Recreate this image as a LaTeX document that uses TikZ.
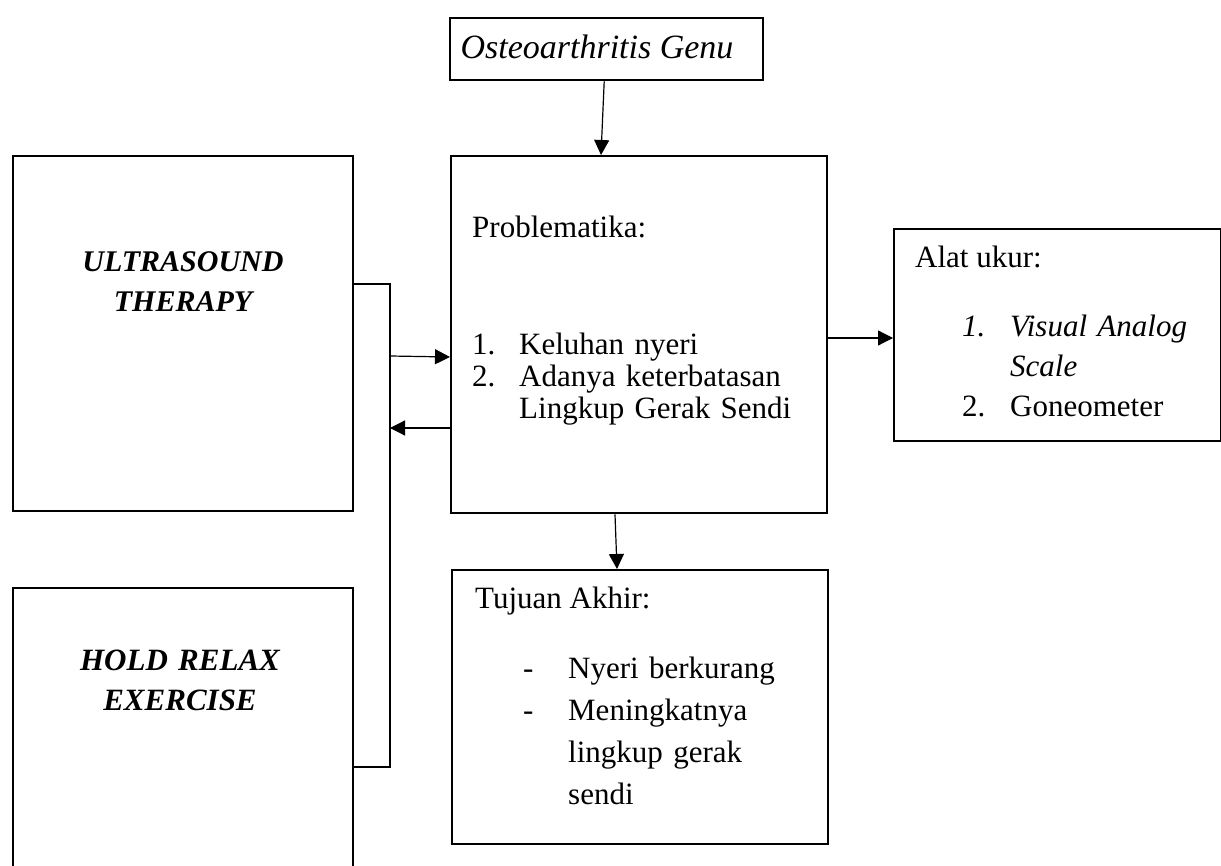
\documentclass[tikz,border=0pt]{standalone}
\usepackage{fontspec}
\setmainfont{Liberation Serif}
\usetikzlibrary{arrows.meta}

\begin{document}
\begin{tikzpicture}[
  x=1pt, y=-1pt,
  box/.style={draw, line width=2.4pt, inner sep=0pt, anchor=north west},
  txt/.style={anchor=base west, inner sep=0pt, align=left,
              font=\fontsize{31}{40}\selectfont},
  head/.style={anchor=base, inner sep=0pt, align=center, text width=330pt,
               font=\fontsize{31}{40}\selectfont\bfseries\itshape},
  arr/.style={-{Triangle[length=15pt, width=15pt]}, line width=1.2pt},
  ln/.style={line width=1.2pt}
]
\clip (0,0) rectangle (1221,866);

% ---------------- boxes ----------------
\node[box, minimum width=313pt, minimum height=62pt] (genu) at (449,17) {};
\node[box, minimum width=376pt, minimum height=357pt] (prob) at (450,155) {};
\node[box, minimum width=340pt, minimum height=355pt] (usbox) at (12,155) {};
\node[box, minimum width=340pt, minimum height=320pt] (hrbox) at (12,587) {};
\node[box, minimum width=327pt, minimum height=212pt] (alat) at (893,228) {};
\node[box, minimum width=376pt, minimum height=274pt] (tujuan) at (451,569) {};

% ---------------- texts ----------------
\node[anchor=base, inner sep=0pt, font=\fontsize{34}{40}\selectfont\itshape]
  (genulbl) at (597,59) {Osteoarthritis Genu};

\node[txt] (problbl) at (472,238) {Problematika:};
\node[txt, text width=420pt, font=\fontsize{31}{32}\selectfont] (problist) at (472,355)
  {\makebox[47pt][l]{1.}Keluhan nyeri\\
   \makebox[47pt][l]{2.}Adanya keterbatasan\\
   \hspace*{47pt}Lingkup Gerak Sendi};

\node[head, font=\fontsize{30}{40}\selectfont\bfseries\itshape] (uslbl) at (183,272) {ULTRASOUND\\THERAPY};
\node[head] (hrlbl) at (180,670) {HOLD RELAX\\EXERCISE};

\node[txt] (alatlbl) at (915,268) {Alat ukur:};
\node[txt, text width=320pt] (alatlist) at (962,337)
  {\makebox[48pt][l]{\itshape 1.}\textit{Visual Analog}\\
   \hspace*{48pt}\textit{Scale}\\
   \makebox[48pt][l]{2.}Goneometer};

\node[txt] (tujlbl) at (475,608) {Tujuan Akhir:};
\node[txt, text width=380pt, font=\fontsize{31}{42}\selectfont] (tujlist) at (523,678)
  {\makebox[45pt][l]{-}Nyeri berkurang\\
   \makebox[45pt][l]{-}Meningkatnya\\
   \hspace*{45pt}lingkup gerak\\
   \hspace*{45pt}sendi};

% ---------------- bracket on the left ----------------
\coordinate (bartop) at (390,284);
\coordinate (barbot) at (390,767);
\coordinate (barin) at (390,356);
\coordinate (barout) at (390,428);
\draw[ln] ([yshift=-129pt]usbox.north east) -- (bartop) -- (barbot)
  -- ([yshift=-180pt]hrbox.north east);

% ---------------- arrows ----------------
\draw[arr] ([xshift=-2.5pt]genu.south) -- ([xshift=151pt]prob.north west);
\draw[arr] (barin) -- ([yshift=-202pt]prob.north west);
\draw[arr] ([yshift=-273pt]prob.north west) -- (barout);
\draw[arr] ([yshift=-183pt]prob.north east) -- ([yshift=-110pt]alat.north west);
\draw[arr] ([xshift=165pt]prob.south west) -- ([xshift=166pt]tujuan.north west);

\end{tikzpicture}
\end{document}
